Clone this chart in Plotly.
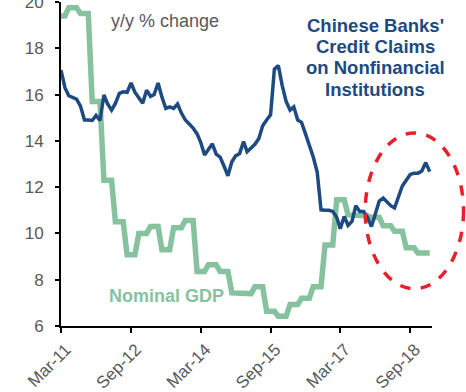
import plotly.graph_objects as go
import pandas as pd

# Monthly dates from Mar-2011 to Feb-2019
dates = pd.date_range("2011-03-01", periods=96, freq="MS")

credit_claims = [
    17.06, 16.3, 15.95, 15.88, 15.8, 15.5, 14.9, 14.9, 14.88, 15.1,
    14.88, 15.98, 15.6, 15.33, 15.62, 16.05, 16.12, 16.1, 16.5, 16.1,
    15.85, 15.62, 16.19, 15.92, 16.0, 16.5, 15.9, 15.4, 15.47, 15.4,
    15.59, 15.2, 14.9, 14.72, 14.55, 14.3, 13.95, 13.39, 13.6, 13.87,
    13.43, 13.3, 12.9, 12.49, 13.1, 13.35, 13.45, 13.97, 13.53, 13.68,
    13.85, 14.1, 14.65, 14.9, 15.12, 17.1, 17.25, 16.4, 15.7, 15.33,
    15.47, 14.9, 14.8, 14.3, 13.8, 13.3, 12.65, 11.02, 11.0, 11.0,
    10.95, 10.7, 10.2, 10.73, 10.35, 10.52, 11.2, 10.95, 10.95, 10.7,
    10.3, 10.9, 11.4, 11.53, 11.38, 11.2, 11.1, 11.6, 12.05, 12.3,
    12.55, 12.6, 12.6, 12.7, 13.06, 12.67,
]

nominal_gdp = [
    19.4, 19.4,
    19.75, 19.75, 19.75,
    19.5, 19.5, 19.5,
    15.7, 15.7, 15.7,
    12.3, 12.3, 12.3,
    10.5, 10.5, 10.5,
    9.08, 9.08, 9.08,
    10.0, 10.0, 10.0,
    10.3, 10.3, 10.3,
    9.3, 9.3, 9.3,
    10.24, 10.24, 10.24,
    10.56, 10.56, 10.56,
    8.36, 8.36, 8.36,
    8.65, 8.65, 8.65,
    8.36, 8.36, 8.36,
    7.43, 7.43, 7.43,
    7.4, 7.4, 7.4,
    7.7, 7.7, 7.7,
    6.64, 6.64, 6.64,
    6.42, 6.42, 6.42,
    6.93, 6.93, 6.93,
    7.2, 7.2, 7.2,
    7.7, 7.7, 7.7,
    9.5, 9.5, 9.5,
    11.45, 11.45, 11.45,
    10.8, 10.8, 10.8,
    10.76, 10.76, 10.76,
    10.7, 10.7, 10.7,
    10.33, 10.33, 10.33,
    10.09, 10.09, 10.09,
    9.38, 9.38, 9.38,
    9.15, 9.15, 9.15, 9.15,
]

tick_dates = ["2011-03-01", "2012-09-01", "2014-03-01", "2015-09-01", "2017-03-01", "2018-09-01"]
tick_labels = ["Mar-11", "Sep-12", "Mar-14", "Sep-15", "Mar-17", "Sep-18"]
y_ticks = [6, 8, 10, 12, 14, 16, 18, 20]
title_lines = ["Chinese Banks'", "Credit Claims", "on Nonfinancial", "Institutions"]

BLUE = "#1d4a80"
GREEN = "#86c29e"
RED = "#e8202a"
GRAY = "#595959"
FONT = "Liberation Sans, Arial, sans-serif"

fig = go.Figure()
fig.add_trace(go.Scatter(x=dates, y=nominal_gdp, mode="lines",
                         line=dict(color=GREEN, width=5.5), name="Nominal GDP"))
fig.add_trace(go.Scatter(x=dates, y=credit_claims, mode="lines",
                         line=dict(color=BLUE, width=3.5), name="Credit claims"))

fig.update_layout(
    width=466, height=392,
    margin=dict(l=61, r=34, t=2, b=66, autoexpand=False),
    paper_bgcolor="white", plot_bgcolor="white",
    showlegend=False,
    font=dict(family=FONT, size=17, color=GRAY),
)
fig.update_xaxes(
    type="date", range=["2011-03-01", "2019-02-19"],
    tickvals=tick_dates, ticktext=tick_labels, tickangle=-45,
    ticklabelshift=5,
    showgrid=False, zeroline=False,
    showline=True, linecolor="black", linewidth=2,
    ticks="outside", ticklen=5, tickwidth=2, tickcolor="black",
    tickfont=dict(family=FONT, size=17, color=GRAY),
)
fig.update_yaxes(
    range=[6, 20], tickvals=y_ticks,
    showgrid=False, zeroline=False,
    showline=True, linecolor="black", linewidth=2,
    ticks="outside", ticklen=4, tickwidth=2, tickcolor="black",
    ticklabelstandoff=8, ticklabeloverflow="allow",
    tickfont=dict(family=FONT, size=17, color=GRAY),
)

fig.add_annotation(xref="paper", yref="paper", x=0.13, y=0.941, xanchor="left", yanchor="middle",
                   text="y/y % change", showarrow=False,
                   font=dict(family=FONT, size=18, color=GRAY))

title_y = [0.929, 0.864, 0.799, 0.731]
for line, yy in zip(title_lines, title_y):
    fig.add_annotation(xref="paper", yref="paper", x=0.847, y=yy, xanchor="center", yanchor="middle",
                       text="<b>" + line + "</b>", showarrow=False,
                       font=dict(family=FONT, size=18.5, color=BLUE))

fig.add_annotation(xref="paper", yref="paper", x=0.284, y=0.093, xanchor="center", yanchor="middle",
                   text="<b>Nominal GDP</b>", showarrow=False,
                   font=dict(family=FONT, size=18, color=GREEN))

fig.add_shape(type="circle", xref="paper", yref="paper",
              x0=0.82, x1=1.085, y0=0.115, y1=0.596,
              line=dict(color=RED, width=3.5, dash="dash"), layer="above")

fig.write_html("out.html")
